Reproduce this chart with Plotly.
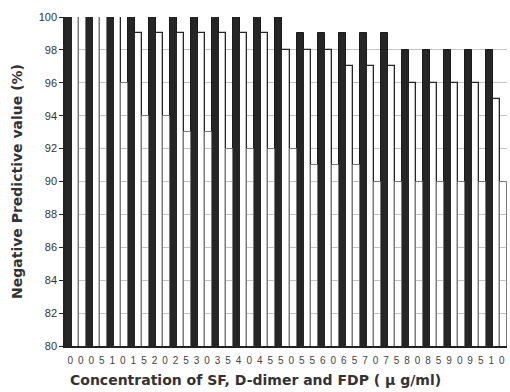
import plotly.graph_objects as go

# Cut-off concentrations (tick labels as printed on the axis)
tick_labels = ["0\u20020", "0\u20025", "1\u20020", "1\u20025", "2\u20020", "2\u20025",
               "3\u20020", "3\u20025", "4\u20020", "4\u20025", "5\u20020", "5\u20025",
               "6\u20020", "6\u20025", "7\u20020", "7\u20025", "8\u20020", "8\u20025",
               "9\u20020", "9\u20025", "1\u20020"]

# Negative predictive value (%) at each cut-off
npv_sf = [100, 100, 100, 100, 100, 100, 100, 100, 100, 100, 100,
          99, 99, 99, 99, 99, 98, 98, 98, 98, 98]
npv_ddimer = [100, 100, 100, 99, 99, 99, 99, 99, 99, 99, 98,
              98, 98, 97, 97, 97, 96, 96, 96, 96, 95]
npv_fdp = [100, 100, 96, 94, 94, 93, 93, 92, 92, 92, 92,
           91, 91, 91, 90, 90, 90, 90, 90, 90, 90]

positions = list(range(len(tick_labels)))

W, H = 510, 392
ML, MR, MT, MB = 65, 3, 17, 46

fig = go.Figure()
fig.add_trace(go.Bar(x=positions, y=npv_sf, name="SF",
                     marker=dict(color="#262626", line=dict(color="#1a1a1a", width=1))))
fig.add_trace(go.Bar(x=positions, y=npv_ddimer, name="D-dimer",
                     marker=dict(color="#ffffff", line=dict(color="#262626", width=1.3))))
fig.add_trace(go.Bar(x=positions, y=npv_fdp, name="FDP",
                     marker=dict(color="rgba(255,255,255,0)",
                                 line=dict(color="#7a7a7a", width=1))))

title_font = "DejaVu Sans, Liberation Sans, Arial, sans-serif"
tick_font = "Liberation Sans, Arial, sans-serif"

plot_w = W - ML - MR
plot_h = H - MT - MB

fig.update_layout(
    width=W, height=H,
    margin=dict(l=ML, r=MR, t=MT, b=MB),
    paper_bgcolor="white", plot_bgcolor="white",
    barmode="group", bargap=0, bargroupgap=0,
    showlegend=False,
    font=dict(family=tick_font, color="#333333"),
    annotations=[dict(
        text="<b>Concentration of SF, D-dimer and FDP ( \u03bc g/ml)</b>",
        xref="paper", yref="paper",
        x=(W / 2 - ML) / plot_w, y=-(380 - (H - MB)) / plot_h,
        xanchor="center", yanchor="middle", showarrow=False,
        font=dict(size=14, color="#333333", family=title_font),
    )],
)
fig.update_xaxes(
    tickmode="array", tickvals=positions, ticktext=tick_labels,
    range=[-0.5, len(positions) - 0.5],
    tickfont=dict(size=10, color="#444444"),
    showline=True, linecolor="#222222", linewidth=1.5,
    showgrid=False, ticks="outside", ticklen=4, tickcolor="rgba(0,0,0,0)",
)
fig.update_yaxes(
    range=[80, 100], tickmode="linear", tick0=80, dtick=2,
    tickfont=dict(size=11, color="#333333"),
    showline=True, linecolor="#222222", linewidth=1.5,
    ticks="outside", ticklen=4, tickcolor="#222222",
    showgrid=True, gridcolor="#c4c4c4", gridwidth=1,
    title=dict(text="<b>Negative Predictive value (%)</b>",
               font=dict(size=14, color="#333333", family=title_font), standoff=13),
)

fig.write_html("out.html")
